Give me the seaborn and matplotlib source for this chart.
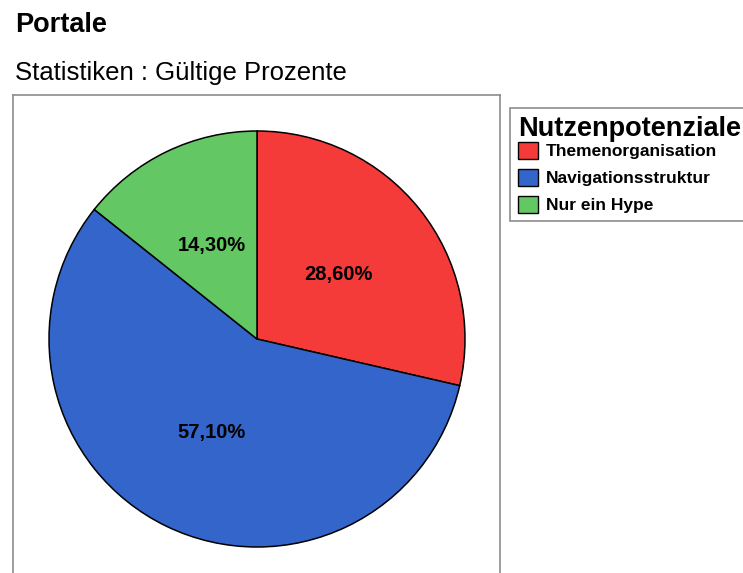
import matplotlib
matplotlib.use("Agg")
import matplotlib.pyplot as plt
import seaborn as sns
from matplotlib.patches import Patch

# Data
categories = ['Themenorganisation', 'Navigationsstruktur', 'Nur ein Hype']
percent = [28.6, 57.1, 14.3]
colors = ['#F53A3A', '#3465CB', '#63C763']

sns.set_theme(style='white')
plt.rcParams['font.family'] = ['Liberation Sans', 'DejaVu Sans']
plt.rcParams['text.color'] = 'black'

W, H = 743, 573
fig = plt.figure(figsize=(W / 100, H / 100), dpi=100)

# framed box around the pie (pixel coords)
left, right, top, bottom = 13, 500, 95, 600
cx, cy, r = 257, 339, 208
ax = fig.add_axes([left / W, 1 - bottom / H, (right - left) / W, (bottom - top) / H])

wedges, texts, autotexts = ax.pie(
    percent, colors=colors, startangle=90, counterclock=False,
    radius=r, center=(0, 0), frame=True,
    autopct=lambda p: f'{p:.2f}%'.replace('.', ','), pctdistance=0.5,
    wedgeprops=dict(edgecolor='black', linewidth=1.1),
    textprops=dict(fontsize=14.5, fontweight='bold', color='black'))

ax.set_xlim(left - cx, right - cx)
ax.set_ylim(-(bottom - cy), cy - top)
ax.set_aspect('auto')
ax.set_xticks([])
ax.set_yticks([])
for s in ax.spines.values():
    s.set_color('#8c8c8c')
    s.set_linewidth(1.2)

fig.text(15 / W, 1 - 25 / H, 'Portale', fontsize=19.5, fontweight='bold', va='center', ha='left')
fig.text(15 / W, 1 - 73 / H, 'Statistiken : Gültige Prozente', fontsize=18.5, va='center', ha='left')

handles = [Patch(facecolor=c, edgecolor='black', linewidth=1.0) for c in colors]
leg = fig.legend(handles, categories, title='Nutzenpotenziale',
                 loc='upper left', bbox_to_anchor=(510 / W, 1 - 108 / H),
                 fontsize=12.5, title_fontsize=19.5, frameon=True, fancybox=False,
                 handlelength=1.15, handleheight=1.15, handletextpad=0.45,
                 labelspacing=0.55, borderpad=0.45, borderaxespad=0)
leg._legend_box.sep = 0  # title sits close to the first entry
leg.get_title().set_fontweight('bold')
leg._legend_box.align = 'left'
for t in leg.get_texts():
    t.set_fontweight('bold')
leg.get_frame().set_edgecolor('#707070')
leg.get_frame().set_linewidth(1.2)

fig.savefig('out.png', dpi=100)
